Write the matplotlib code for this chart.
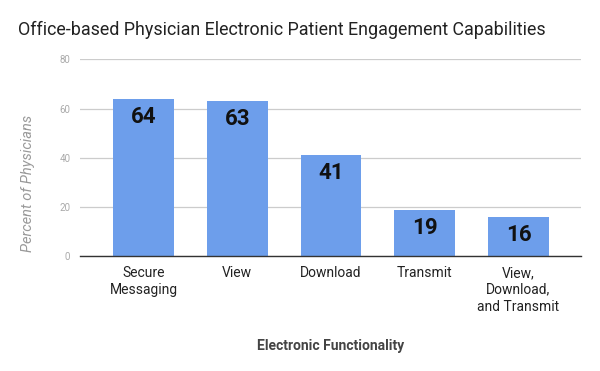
import matplotlib.pyplot as plt
import numpy as np

# Datos
categorias = ['Secure\nMessaging', 'View', 'Download', 'Transmit',
              'View,\nDownload,\nand Transmit']
porcentajes = [64, 63, 41, 19, 16]
ticks_y = [0, 20, 40, 60, 80]

plt.rcParams['font.family'] = ['Roboto', 'DejaVu Sans']

fig = plt.figure(figsize=(6.0, 3.71), dpi=100)
ax = fig.add_axes([80 / 600, 1 - 256.3 / 371, 501 / 600, 197 / 371])

x = np.arange(len(categorias))
barras = ax.bar(x, porcentajes, width=0.65, color='#6d9eeb', zorder=2)

for xi, v in zip(x, porcentajes):
    ax.annotate(str(v), (xi, v), xytext=(0, -18), textcoords='offset pixels',
                ha='center', va='center', fontsize=16, fontweight='bold',
                color='#111111', zorder=3)

ax.set_xlim(-0.677, 4.667)
ax.set_ylim(0, 80)
ax.set_yticks(ticks_y)
ax.set_xticks(x)
ax.set_xticklabels(categorias, fontsize=10, color='#222222', linespacing=1.25)
ax.tick_params(axis='x', length=0, pad=7)
ax.tick_params(axis='y', length=0, pad=7, labelsize=7, labelcolor='#aaaaaa')

ax.grid(axis='y', color='#cccccc', linewidth=0.9, zorder=0)
for lado in ['top', 'right', 'left']:
    ax.spines[lado].set_visible(False)
ax.spines['bottom'].set_color('#333333')
ax.spines['bottom'].set_linewidth(1.0)
ax.spines['bottom'].set_zorder(3)

ax.set_ylabel('Percent of Physicians', fontsize=10.5, style='italic',
              color='#999999', va='center')
ax.yaxis.set_label_coords(-0.104, 0.372)
ax.set_xlabel('Electronic Functionality', fontsize=10, fontweight='bold',
              color='#444444', labelpad=18)

fig.text(18 / 600, 1 - 30 / 371, 'Office-based Physician Electronic Patient Engagement Capabilities',
         fontsize=12.85, color='#222222', ha='left', va='center')

fig.savefig('out.png', dpi=100, facecolor='white')
